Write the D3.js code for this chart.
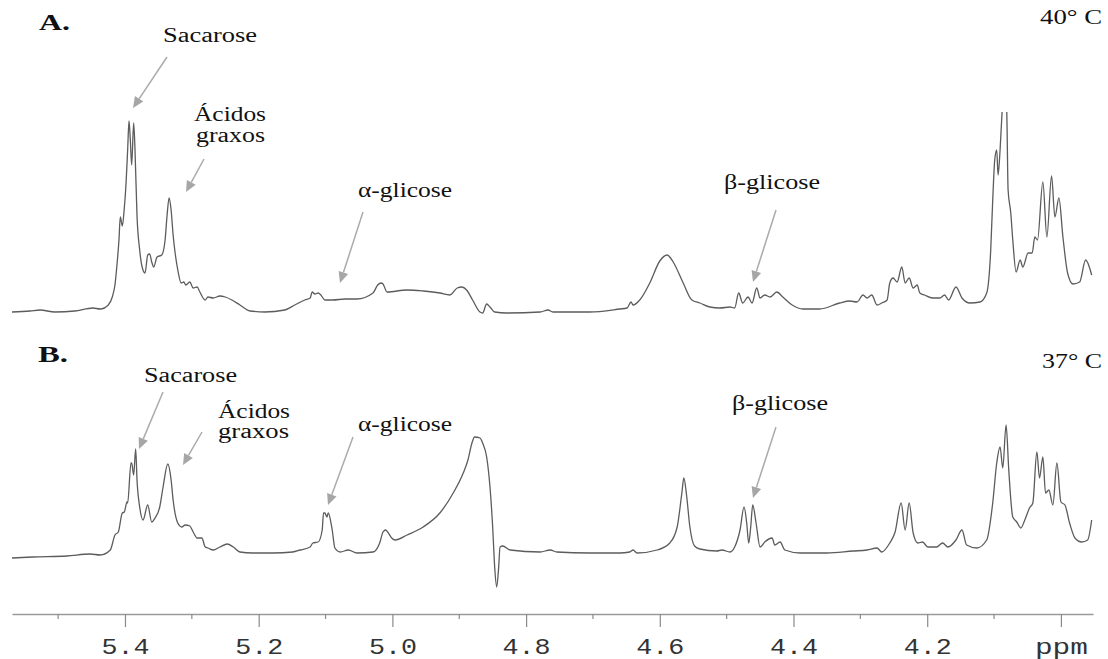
<!DOCTYPE html>
<html>
<head>
<meta charset="utf-8">
<script src="https://cdn.jsdelivr.net/npm/d3@7"></script>
<style>
  body { margin: 0; background: #fff; }
  svg { display: block; }
</style>
</head>
<body>
<script>
// spectrum A (40 C): chemical shift (ppm) and relative intensity
var ppmA = [5.569,5.542,5.527,5.505,5.475,5.448,5.437,5.425,5.419,5.415,
  5.412,5.409,5.407,5.404,5.401,5.399,5.396,5.394,5.392,5.390,
  5.387,5.385,5.382,5.378,5.375,5.370,5.366,5.363,5.360,5.357,
  5.352,5.345,5.340,5.337,5.334,5.331,5.328,5.325,5.321,5.316,
  5.312,5.309,5.303,5.298,5.292,5.288,5.280,5.276,5.268,5.258,
  5.250,5.240,5.228,5.213,5.191,5.161,5.146,5.131,5.123,5.120,
  5.116,5.111,5.107,5.101,5.089,5.071,5.053,5.029,5.022,5.017,
  5.014,5.008,4.978,4.954,4.929,4.914,4.903,4.896,4.889,4.880,
  4.869,4.865,4.859,4.854,4.847,4.829,4.779,4.767,4.760,4.705,
  4.660,4.649,4.643,4.640,4.630,4.615,4.600,4.589,4.580,4.565,
  4.552,4.540,4.525,4.510,4.495,4.488,4.482,4.476,4.468,4.462,
  4.455,4.450,4.443,4.435,4.425,4.416,4.402,4.386,4.361,4.331,
  4.316,4.305,4.296,4.290,4.283,4.275,4.268,4.260,4.256,4.251,
  4.245,4.238,4.233,4.227,4.221,4.215,4.211,4.204,4.192,4.181,
  4.174,4.168,4.157,4.148,4.136,4.121,4.111,4.105,4.102,4.099,
  4.096,4.094,4.091,4.088,4.084,4.081,4.079,4.075,4.072,4.067,
  4.061,4.057,4.049,4.043,4.039,4.035,4.027,4.021,4.014,4.009,
  4.003,3.997,3.990,3.982,3.972,3.963,3.954];
var intA = [0,0.5,1,0,0.5,2,1.5,3.5,7.5,13.5,
  23.5,36,47.5,43,52,61,81,95.5,86,73.5,
  94.5,81,48,31,23.5,19.5,28.5,29,25,22.5,
  27.5,28.5,36,48.5,57,51,38.5,29.5,21,14.5,
  15,13.5,15,12,12.5,10,6,7.5,7,8,
  7.5,6,3.5,0.5,0,1,3.5,6,7,10,
  9,9.5,8.5,6,6,6.5,6.5,9.5,13.5,14.5,
  14,10,11,10.5,9.5,8.5,12,12.5,11,6,
  0,-0.5,4,2.5,0,-0.5,0,1,0,0,
  1.5,2,5,3.5,6,14.5,25.5,28.5,25,14.5,
  6,4.5,2.5,2,2.5,2,9.5,4.5,7.5,4.5,
  12,7,8.5,7.5,10,7.5,3.5,1.5,1.5,4.5,
  5.5,5,8.5,7,8.5,3.5,4.5,6,14.5,17,
  15,22.5,14.5,17,12,13.5,9.5,8.5,7,7,
  8.5,6,12.5,7,4.5,5,9.5,31,56,76,
  81,68.5,81,100,115,100,61,49.5,36,20,
  26,22.5,29.5,29.5,37.5,36,65,37.5,68,47.5,
  57,37.5,19.5,14,15,26,18.5];

// spectrum B (37 C)
var ppmB = [5.569,5.538,5.487,5.452,5.437,5.422,5.415,5.410,5.404,5.401,
  5.397,5.396,5.391,5.390,5.387,5.384,5.382,5.378,5.373,5.366,
  5.360,5.355,5.348,5.343,5.336,5.331,5.328,5.321,5.315,5.310,
  5.303,5.298,5.292,5.285,5.280,5.276,5.268,5.258,5.247,5.238,
  5.228,5.209,5.179,5.149,5.138,5.123,5.119,5.111,5.105,5.103,
  5.101,5.098,5.096,5.090,5.086,5.078,5.066,5.053,5.029,5.019,
  5.014,5.010,5.007,5.001,4.996,4.978,4.954,4.929,4.909,4.894,
  4.887,4.881,4.877,4.869,4.865,4.859,4.854,4.850,4.847,4.844,
  4.841,4.839,4.835,4.824,4.779,4.764,4.754,4.705,4.660,4.645,
  4.640,4.634,4.604,4.585,4.574,4.567,4.564,4.560,4.555,4.548,
  4.540,4.515,4.507,4.495,4.488,4.480,4.474,4.470,4.467,4.464,
  4.461,4.456,4.450,4.443,4.432,4.428,4.420,4.413,4.390,4.350,
  4.311,4.290,4.275,4.268,4.256,4.248,4.239,4.233,4.227,4.221,
  4.214,4.207,4.199,4.186,4.177,4.169,4.157,4.148,4.141,4.126,
  4.111,4.102,4.096,4.091,4.087,4.082,4.078,4.072,4.066,4.060,
  4.054,4.047,4.042,4.036,4.032,4.027,4.023,4.018,4.012,4.006,
  4.000,3.994,3.987,3.979,3.969,3.960,3.954];
var intB = [-2,-1.5,-1,0,-0.5,2,9.5,11,20.5,21,
  26,25.5,45.5,45.5,39.5,52.5,37,23.5,17,24.5,
  16,18,23.5,33.5,45,37,27,15.5,13.5,14.5,
  14,11,8,8,3.5,3,2,3.5,5,3.5,
  1,0.5,0.5,1,2,3.5,5.5,6,12,20.5,
  20.5,18.5,20.5,12,3,1,2,0.5,1,5.5,
  11,12,11,8,7,9.5,13.5,20.5,30.5,40.5,
  47,55.5,58.5,58,55.5,48.5,33.5,13.5,-6.5,-16.5,
  -6.5,3.5,4,2,1,2,1,0.5,0.5,1,
  2,0.5,2,5.5,13.5,30.5,38,29.5,13.5,4,
  2.5,1.5,2,1,3.5,12,23.5,15.5,5.5,13.5,
  24.5,15.5,3.5,6,8,4.5,6,2,0.5,0.5,
  1.5,2,3,1,5.5,11,25.5,12,25.5,10.5,
  5.5,6,3.5,3.5,5.5,3.5,7,12,4.5,3,
  7,25.5,45.5,53.5,43,64.5,42,18.5,16,13,
  17,23,25.5,51,38,48.5,30.5,32,24.5,45.5,
  26,24.5,15.5,8,6,7,17];

var majorTicks = [5.4, 5.2, 5.0, 4.8, 4.6, 4.4, 4.2, 4.0];
var minorTicks = [5.5, 5.3, 5.1, 4.9, 4.7, 4.5, 4.3, 4.1];

var W = 1108, H = 659;
var serif = "'Liberation Serif','Times New Roman',serif";

var svg = d3.select("body").append("svg")
    .attr("width", W)
    .attr("height", H);

var x = d3.scaleLinear().domain([5.569, 3.952]).range([12, 1093]);
var yA = d3.scaleLinear().domain([0, 100]).range([312, 112]);
var yB = d3.scaleLinear().domain([0, 100]).range([554, 354]);

svg.append("clipPath").attr("id", "clipA")
  .append("rect").attr("x", 12).attr("y", 112).attr("width", 1081).attr("height", 220);

function drawTrace(ppm, val, y, clip) {
  var pts = ppm.map(function(p, i) { return [p, val[i]]; });
  var line = d3.line()
      .x(function(d) { return x(d[0]); })
      .y(function(d) { return y(d[1]); })
      .curve(d3.curveMonotoneX);
  var p = svg.append("path")
      .datum(pts)
      .attr("d", line)
      .attr("fill", "none")
      .attr("stroke", "#5c5c5c")
      .attr("stroke-width", 1.3)
      .attr("stroke-linejoin", "round");
  if (clip) p.attr("clip-path", "url(#" + clip + ")");
}

drawTrace(ppmA, intA, yA, "clipA");
drawTrace(ppmB, intB, yB, null);

// ppm axis
var axis = svg.append("g")
    .attr("transform", "translate(0,614)")
    .call(d3.axisBottom(x)
      .tickValues(majorTicks)
      .tickSize(13)
      .tickSizeOuter(0)
      .tickPadding(10)
      .tickFormat(function(d) { return d === 4.0 ? "ppm" : d3.format(".1f")(d); }));
axis.select(".domain").attr("stroke", "#9a9a9a").attr("stroke-width", 1.5);
axis.selectAll(".tick line").attr("stroke", "#8a8a8a").attr("stroke-width", 1.2);
axis.selectAll(".tick text")
    .attr("fill", "#333")
    .attr("dy", "0.75em")
    .style("font-family", "'Liberation Mono','Courier New',monospace")
    .style("font-size", "22px")
    .attr("textLength", function(d) { return d === 4.0 ? 53 : 48; })
    .attr("lengthAdjust", "spacingAndGlyphs");

axis.selectAll(".minor")
    .data(minorTicks)
    .enter().append("line")
    .attr("x1", function(d) { return x(d); })
    .attr("x2", function(d) { return x(d); })
    .attr("y1", 0)
    .attr("y2", 5)
    .attr("stroke", "#8a8a8a")
    .attr("stroke-width", 1.2);

// labels
var labels = [
  {t: "A.", x: 39, y: 30, w: 31, s: 23, b: true},
  {t: "40\u00b0 C", x: 1040, y: 24, w: 62, s: 20},
  {t: "Sacarose", x: 163, y: 42, w: 94, s: 20},
  {t: "\u00c1cidos", x: 194, y: 121, w: 72, s: 20},
  {t: "graxos", x: 196, y: 142, w: 69, s: 20},
  {t: "\u03b1-glicose", x: 358, y: 197, w: 94, s: 20},
  {t: "\u03b2-glicose", x: 724, y: 189, w: 96, s: 20},
  {t: "B.", x: 38, y: 362, w: 30, s: 23, b: true},
  {t: "37\u00b0 C", x: 1042, y: 368, w: 60, s: 20},
  {t: "Sacarose", x: 144, y: 382, w: 93, s: 20},
  {t: "\u00c1cidos", x: 218, y: 418, w: 72, s: 20},
  {t: "graxos", x: 218, y: 438, w: 71, s: 20},
  {t: "\u03b1-glicose", x: 358, y: 431, w: 94, s: 20},
  {t: "\u03b2-glicose", x: 732, y: 410, w: 96, s: 20}
];

svg.selectAll(".lbl")
    .data(labels)
    .enter().append("text")
    .attr("x", function(d) { return d.x; })
    .attr("y", function(d) { return d.y; })
    .attr("textLength", function(d) { return d.w; })
    .attr("lengthAdjust", "spacingAndGlyphs")
    .style("font-family", serif)
    .style("font-size", function(d) { return d.s + "px"; })
    .style("font-weight", function(d) { return d.b ? "bold" : "normal"; })
    .attr("fill", "#111")
    .text(function(d) { return d.t; });

// arrows
var arrows = [
  [167, 57, 133, 108], [204, 159, 186, 192], [363, 212, 340, 283], [776, 210, 753, 282],
  [163, 392, 139, 449], [202, 432, 183, 465], [353, 437, 328, 505], [776, 427, 753, 498]
];

arrows.forEach(function(a) {
  var dx = a[2] - a[0], dy = a[3] - a[1];
  var len = Math.sqrt(dx * dx + dy * dy);
  var ux = dx / len, uy = dy / len;
  var hl = 11, hw = 5;
  var bx = a[2] - ux * hl, by = a[3] - uy * hl;
  svg.append("line")
    .attr("x1", a[0]).attr("y1", a[1])
    .attr("x2", bx).attr("y2", by)
    .attr("stroke", "#ababab")
    .attr("stroke-width", 1.5);
  svg.append("path")
    .attr("d", "M" + a[2] + "," + a[3] +
      "L" + (bx - uy * hw) + "," + (by + ux * hw) +
      "L" + (bx + uy * hw) + "," + (by - ux * hw) + "Z")
    .attr("fill", "#a6a6a6");
});
</script>
</body>
</html>
